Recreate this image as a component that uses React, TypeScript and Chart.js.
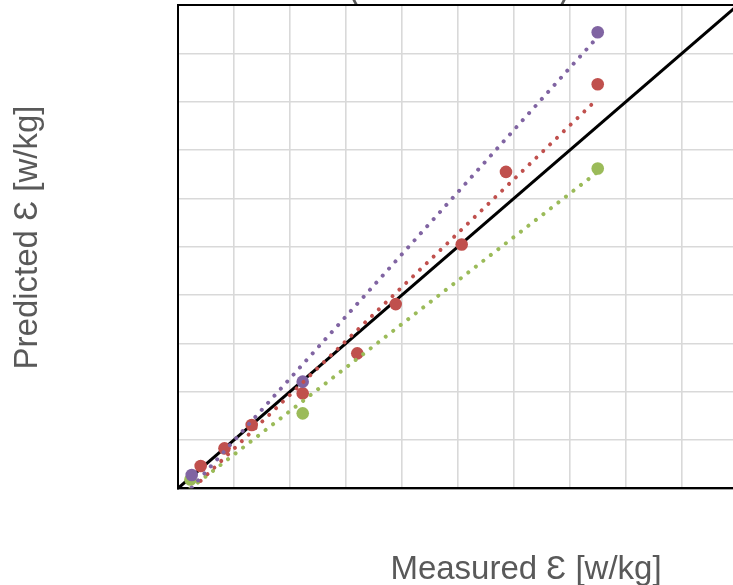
import React, { useEffect, useRef } from "react";
import { Chart, registerables } from "chart.js";

Chart.register(...registerables);

// ---- data (axis units 0..10 on both axes) ----
const axisMin = 0;
const axisMax = 10;
const axisStep = 1;

const purpleX = [0.245, 2.227, 7.495];
const purpleY = [0.275, 2.207, 9.437];

const redX = [0.405, 0.83, 1.316, 2.227, 3.202, 3.888, 5.066, 5.857, 7.495];
const redY = [0.461, 0.827, 1.309, 1.964, 2.792, 3.811, 5.045, 6.547, 8.36];

const greenX = [0.223, 2.227, 7.495];
const greenY = [0.182, 1.551, 6.617];

const identityX = [0, 10];
const identityY = [0, 10];

const titleLines = ["Predicted vs Measured \u0190", "(Measured vs Model)"];
const xTitle = "Measured \u0190 [w/kg]";
const yTitle = "Predicted \u0190 [w/kg]";

const PURPLE = "#8064A2";
const RED = "#C0504D";
const GREEN = "#9BBB59";
const TEXT = "#595959";

function pts(xs: number[], ys: number[]) {
  return xs.map((x, i) => ({ x, y: ys[i] }));
}

// Linear least-squares trendline over the data's x span
function trend(xs: number[], ys: number[]) {
  const n = xs.length;
  const mx = xs.reduce((a, b) => a + b, 0) / n;
  const my = ys.reduce((a, b) => a + b, 0) / n;
  let sxy = 0;
  let sxx = 0;
  for (let i = 0; i < n; i++) {
    sxy += (xs[i] - mx) * (ys[i] - my);
    sxx += (xs[i] - mx) * (xs[i] - mx);
  }
  const b = sxy / sxx;
  const a = my - b * mx;
  const x0 = Math.min(...xs);
  const x1 = Math.max(...xs);
  return [
    { x: x0, y: a + b * x0 },
    { x: x1, y: a + b * x1 },
  ];
}

const CANVAS_W = 760;
const CANVAS_H = 645;
const OFFSET_Y = 60; // canvas starts above the page top (title is cut off)

const decor = {
  id: "decor",
  beforeDatasetsDraw(chart: any) {
    const { ctx, chartArea } = chart;
    const { left, right, top, bottom } = chartArea;
    ctx.save();
    ctx.strokeStyle = "#000";
    ctx.lineWidth = 2;
    ctx.strokeRect(left, top, right - left, bottom - top);
    ctx.restore();
  },
  afterDraw(chart: any) {
    const { ctx } = chart;
    ctx.save();
    ctx.fillStyle = TEXT;
    // chart title (mostly above the visible page)
    ctx.font = "bold 22px 'Liberation Sans', Arial, sans-serif";
    ctx.textAlign = "center";
    ctx.textBaseline = "alphabetic";
    ctx.fillText(titleLines[0], 459, OFFSET_Y - 30);
    ctx.fillText(titleLines[1], 459, OFFSET_Y - 1.5);
    // axis titles
    ctx.font = "33px 'Liberation Sans', Arial, sans-serif";
    ctx.fillText(xTitle, 526, OFFSET_Y + 579);
    ctx.translate(37, OFFSET_Y + 237.5);
    ctx.rotate(-Math.PI / 2);
    ctx.fillText(yTitle, 0, 0);
    ctx.restore();
  },
};

export default function App() {
  const ref = useRef<HTMLCanvasElement | null>(null);

  useEffect(() => {
    if (!ref.current) return;
    const dotted = {
      showLine: true,
      pointRadius: 0,
      borderWidth: 4,
      borderDash: [0.01, 9.5],
      borderCapStyle: "round" as const,
      fill: false,
    };
    const marker = {
      showLine: false,
      pointRadius: 6.3,
      pointHoverRadius: 6.3,
      pointBorderWidth: 0,
    };
    const chart = new Chart(ref.current, {
      type: "scatter",
      data: {
        datasets: [
          { label: "Trend C", data: trend(purpleX, purpleY), borderColor: PURPLE, order: 1, ...dotted },
          { label: "Trend B", data: trend(redX, redY), borderColor: RED, order: 2, ...dotted },
          { label: "Trend A", data: trend(greenX, greenY), borderColor: GREEN, order: 3, ...dotted },
          { label: "C", data: pts(purpleX, purpleY), backgroundColor: PURPLE, borderColor: PURPLE, order: 4, ...marker },
          { label: "B", data: pts(redX, redY), backgroundColor: RED, borderColor: RED, order: 5, ...marker },
          { label: "A", data: pts(greenX, greenY), backgroundColor: GREEN, borderColor: GREEN, order: 6, ...marker },
          {
            label: "1:1",
            data: pts(identityX, identityY),
            showLine: true,
            borderColor: "#000",
            borderWidth: 3,
            pointRadius: 0,
            order: 7,
          },
        ],
      },
      options: {
        animation: false,
        responsive: false,
        devicePixelRatio: 1,
        layout: { padding: { left: 0, right: CANVAS_W - 738, top: OFFSET_Y + 5, bottom: 0 } },
        plugins: {
          legend: { display: false },
          tooltip: { enabled: false },
          title: { display: false },
        },
        scales: {
          x: {
            type: "linear",
            min: axisMin,
            max: axisMax,
            ticks: { display: false, stepSize: axisStep },
            grid: { color: "#D9D9D9", lineWidth: 1.6, drawTicks: false },
            border: { color: "#000", width: 2 },
            afterFit: (s: any) => {
              s.height = CANVAS_H - (OFFSET_Y + 488.3);
            },
          },
          y: {
            type: "linear",
            min: axisMin,
            max: axisMax,
            ticks: { display: false, stepSize: axisStep },
            grid: { color: "#D9D9D9", lineWidth: 1.6, drawTicks: false },
            border: { color: "#000", width: 2 },
            afterFit: (s: any) => {
              s.width = 178;
            },
          },
        },
      },
      plugins: [decor],
    });
    return () => chart.destroy();
  }, []);

  return (
    <div style={{ position: "absolute", left: 0, top: 0, width: 733, height: 585, overflow: "hidden", background: "#fff" }}>
      <canvas
        ref={ref}
        width={CANVAS_W}
        height={CANVAS_H}
        style={{ position: "absolute", left: 0, top: -OFFSET_Y, width: CANVAS_W, height: CANVAS_H }}
      />
    </div>
  );
}
